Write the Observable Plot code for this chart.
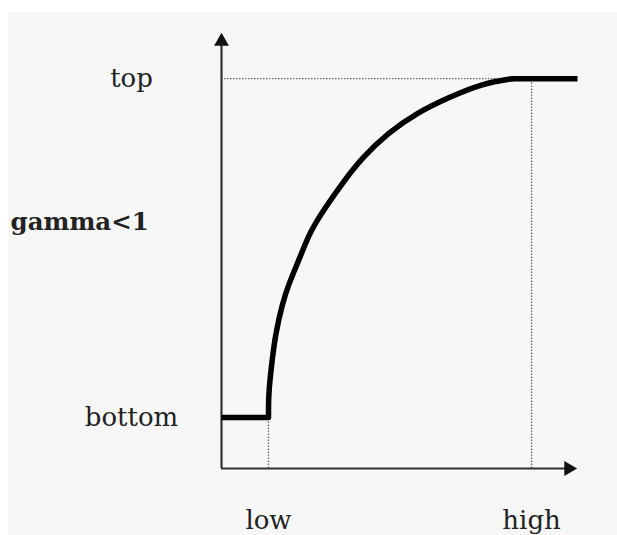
<!DOCTYPE html>
<html>
<head>
<meta charset="utf-8">
<script src="https://cdn.jsdelivr.net/npm/d3@7"></script>
<script src="https://cdn.jsdelivr.net/npm/@observablehq/plot@0.6"></script>
<style>
  html, body { margin: 0; padding: 0; background: #ffffff; }
  #wrap { position: relative; width: 617px; height: 535px; overflow: hidden; }
  #panel { position: absolute; left: 8px; top: 12px; width: 609px; height: 523px; background: #f7f7f7; }
  #chart { position: absolute; left: 0; top: 0; }
  #chart svg { background: transparent !important; }
</style>
</head>
<body>
<div id="wrap"><div id="panel"></div><div id="chart"></div></div>
<script>
// Levels (0–100 schematic units; axis arrow tips are at 100)
const lowX = 13.2, highX = 87.1;
const bottomY = 11.7, topY = 89.4;

// Transfer curve (gamma < 1)
const curveX = [0, 13.2, 13.2, 13.3, 14.2, 15.2, 17.1, 18.9, 21.7, 25.0, 29.2, 33.9, 39.5, 47.0, 54.5, 63.8, 73.2, 81.7, 87.1, 100];
const curveY = [11.7, 11.7, 14.5, 17.9, 24.8, 31.0, 37.8, 42.4, 47.7, 54.6, 59.9, 65.4, 71.3, 77.1, 81.4, 85.1, 88.3, 89.4, 89.4, 89.4];
const curveSeg = ["flat", "flat", "rise", "rise", "rise", "rise", "rise", "rise", "rise", "rise", "rise", "rise", "rise", "rise", "rise", "rise", "rise", "rise", "plateau", "plateau"];

// Labels
const yLabels = ["top", "bottom"];
const yLabelValues = [topY, bottomY];
const xLabels = ["low", "high"];
const xLabelValues = [lowX, highX];
const sideLabel = "gamma<1";
const sideLabelY = 56.4;

const curve = curveX.map((x, i) => ({x, y: curveY[i], seg: curveSeg[i]}));
const flat = curve.filter(d => d.seg === "flat");
const rise = [flat[flat.length - 1], ...curve.filter(d => d.seg === "rise")];
const plateau = [rise[rise.length - 1], ...curve.filter(d => d.seg === "plateau")];

const serif = "'DejaVu Serif', serif";
const ink = "#222";

const plot = Plot.plot({
  width: 617,
  height: 535,
  marginLeft: 221,
  marginRight: 40,
  marginTop: 32,
  marginBottom: 67,
  x: {domain: [0, 100], axis: null},
  y: {domain: [0, 100], axis: null},
  style: {background: "transparent", overflow: "visible"},
  marks: [
    // dotted guides
    Plot.ruleY([topY], {x1: 0, x2: highX, stroke: "#666", strokeWidth: 1.3, strokeDasharray: "1.5,1.5"}),
    Plot.ruleX([highX], {y1: 0, y2: topY, stroke: "#666", strokeWidth: 1.3, strokeDasharray: "1.5,1.5"}),
    Plot.ruleX([lowX], {y1: 0, y2: bottomY, stroke: "#666", strokeWidth: 1.3, strokeDasharray: "1.5,1.5"}),
    // axes
    Plot.ruleX([0], {y1: 0, y2: 98, stroke: "#333", strokeWidth: 2.2}),
    Plot.ruleY([0], {x1: 0, x2: 98, stroke: "#333", strokeWidth: 2.2}),
    Plot.dot([{x: 0, y: 100}], {x: "x", y: "y", symbol: "triangle", r: 5.5, fill: "#111", stroke: "none", dy: 8.9}),
    Plot.dot([{x: 100, y: 0}], {x: "x", y: "y", symbol: "triangle", r: 5.5, fill: "#111", stroke: "none", rotate: 90, dx: -8.9}),
    // curve
    Plot.line(flat, {x: "x", y: "y", stroke: "#000", strokeWidth: 5.5, strokeLinecap: "butt"}),
    Plot.line(rise, {x: "x", y: "y", stroke: "#000", strokeWidth: 5.5, curve: "basis", strokeLinejoin: "round"}),
    Plot.line(plateau, {x: "x", y: "y", stroke: "#000", strokeWidth: 5.5, strokeLinecap: "butt"}),
    // labels
    Plot.text(yLabels, {x: () => 0, y: (d, i) => yLabelValues[i], text: d => d, dx: -90, textAnchor: "middle", fontFamily: serif, fontSize: 26, fill: ink}),
    Plot.text(xLabels, {x: (d, i) => xLabelValues[i], y: () => 0, text: d => d, dy: 52, textAnchor: "middle", fontFamily: serif, fontSize: 26, fill: ink}),
    Plot.text([sideLabel], {x: () => 0, y: () => sideLabelY, text: d => d, dx: -211, textAnchor: "start", fontFamily: serif, fontSize: 24.5, fontWeight: "bold", fill: ink})
  ]
});
document.getElementById("chart").appendChild(plot);
</script>
</body>
</html>
